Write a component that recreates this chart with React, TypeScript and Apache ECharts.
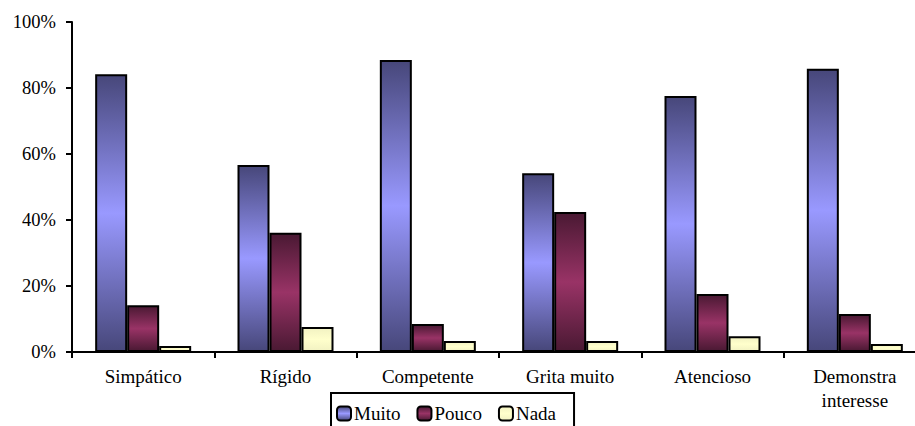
import React, { useEffect, useRef } from "react";
import * as echarts from "echarts";

const categories = ["Simpático", "Rígido", "Competente", "Grita muito", "Atencioso", "Demonstra\ninteresse"];
const muito = [84.2, 56.7, 88.5, 54.2, 77.6, 85.8];
const pouco = [14.2, 36.1, 8.5, 42.4, 17.6, 11.5];
const nada = [1.8, 7.6, 3.3, 3.3, 4.8, 2.4];
const seriesNames = ["Muito", "Pouco", "Nada"];

const FONT = "Liberation Serif";

function grad(dark: string, light: string) {
  return {
    type: "linear",
    x: 0,
    y: 0,
    x2: 0,
    y2: 1,
    colorStops: [
      { offset: 0, color: dark },
      { offset: 0.5, color: light },
      { offset: 1, color: dark },
    ],
  };
}

export default function App() {
  const ref = useRef<HTMLDivElement>(null);
  useEffect(() => {
    if (!ref.current) return;
    const chart = echarts.init(ref.current, null, { renderer: "svg" });
    const fills = [
      grad("#47477a", "#9999ff"),
      grad("#4a1933", "#993366"),
      grad("#f2f2c2", "#ffffcc"),
    ];
    const datasets = [muito, pouco, nada];
    chart.setOption({
      animation: false,
      backgroundColor: "#ffffff",
      textStyle: { fontFamily: FONT },
      grid: { left: 72, top: 22, bottom: 74, right: 0, containLabel: false },
      legend: {
        data: seriesNames,
        left: 331,
        top: 393,
        orient: "horizontal",
        padding: [11, 18, 20, 5],
        borderColor: "#000",
        borderWidth: 2,
        itemWidth: 14,
        itemHeight: 14,
        itemGap: 16,
        textStyle: { fontFamily: FONT, fontSize: 19, color: "#000", padding: [0, 0, 0, -2] },
      },
      xAxis: {
        type: "category",
        data: categories,
        axisLine: { lineStyle: { color: "#000", width: 2 } },
        axisTick: { show: true, length: 6, inside: false, lineStyle: { color: "#000", width: 2 } },
        axisLabel: {
          fontFamily: FONT,
          fontSize: 19,
          color: "#000",
          margin: 12,
          lineHeight: 24,
          interval: 0,
        },
      },
      yAxis: {
        type: "value",
        min: 0,
        max: 100,
        interval: 20,
        splitLine: { show: false },
        axisLine: { show: true, lineStyle: { color: "#000", width: 2 } },
        axisTick: { show: true, length: 6, lineStyle: { color: "#000", width: 2 } },
        axisLabel: {
          fontFamily: FONT,
          fontSize: 18.5,
          color: "#000",
          margin: 16,
          formatter: "{value}%",
        },
      },
      series: seriesNames.map((name, i) => ({
        name,
        type: "bar",
        data: datasets[i],
        barWidth: 32,
        barGap: "0%",
        itemStyle: { color: fills[i], borderColor: "#000", borderWidth: 2 },
      })),
    });
    return () => chart.dispose();
  }, []);
  return (
    <div
      style={{ position: "fixed", left: 0, top: 0, width: 915, height: 426, overflow: "hidden", background: "#fff" }}
    >
      <div ref={ref} style={{ position: "absolute", left: 0, top: 0, width: 926, height: 426 }} />
    </div>
  );
}
